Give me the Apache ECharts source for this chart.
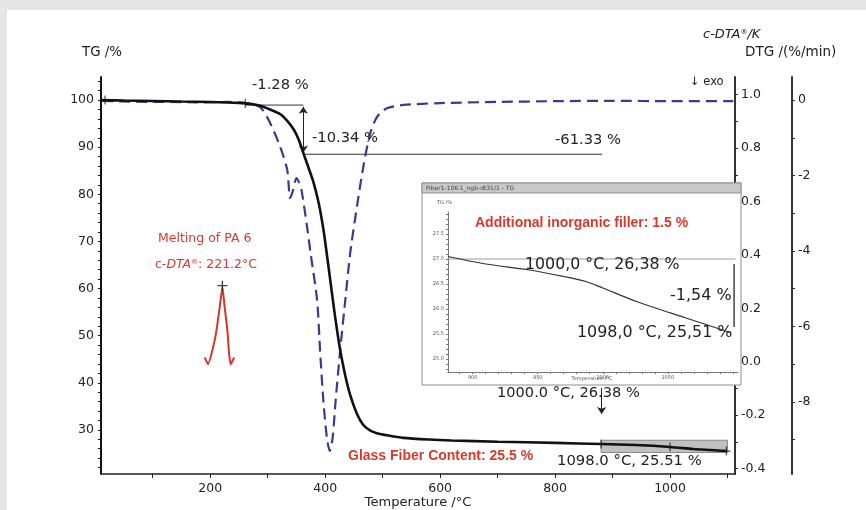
<!DOCTYPE html>
<html>
<head>
<meta charset="utf-8">
<script src="https://cdn.jsdelivr.net/npm/echarts@6/dist/echarts.min.js"></script>
<style>
  html, body { margin: 0; padding: 0; background: #e6e6e6; }
  #paper { position: absolute; left: 7px; top: 10px; width: 859px; height: 500px; background: #fff; }
  #chart { position: absolute; left: 0; top: 0; width: 866px; height: 510px; }
</style>
</head>
<body>
<div id="paper"></div>
<div id="chart"></div>
<script>
// TG curve (left axis, %)
const tgTemp = [12, 50, 100, 150, 200, 250, 270, 287, 304, 322, 334, 345, 354, 362, 370, 379, 386, 391, 397, 403, 408, 413, 418, 426, 435, 444, 455, 466, 478, 490, 510, 536, 580, 620, 700, 800, 880, 940, 1000, 1040, 1070, 1098];
const tgValues = [100.0, 99.9, 99.8, 99.7, 99.6, 99.4, 99.2, 98.8, 98.0, 97.0, 95.6, 93.8, 91.6, 88.8, 86.0, 82.8, 79.6, 76.8, 72.5, 67.2, 62.6, 57.9, 53.4, 47.0, 41.5, 37.2, 33.5, 31.1, 29.9, 29.3, 28.8, 28.3, 27.95, 27.75, 27.5, 27.25, 27.0, 26.78, 26.38, 25.95, 25.72, 25.51];

// DTG curve (outer right axis, %/min)
const dtgTemp = [12, 60, 120, 180, 230, 262, 287, 304, 322, 334, 339, 344, 350, 355, 359, 368, 375, 386, 391, 397, 403, 408, 413, 418, 426, 435, 444, 455, 466, 478, 490, 507, 536, 600, 700, 800, 900, 1000, 1110];
const dtgValues = [-0.02, -0.04, -0.05, -0.06, -0.05, -0.08, -0.19, -0.6, -1.25, -1.85, -2.6, -2.4, -2.07, -2.2, -2.4, -3.3, -4.1, -5.3, -6.6, -8.0, -8.95, -9.3, -8.95, -8.0, -6.65, -5.3, -4.0, -2.85, -1.8, -0.9, -0.45, -0.22, -0.13, -0.08, -0.05, -0.03, -0.02, -0.03, -0.03];

// c-DTA melting peak (inner right axis, K)
const dtaTemp = [190.4, 196.3, 205.0, 210.8, 216.5, 221.2, 225.2, 229.9, 232.9, 235.7, 241.6];
const dtaValues = [0.016, -0.009, 0.054, 0.116, 0.204, 0.279, 0.204, 0.116, 0.03, -0.009, 0.016];

// inset: TG tail
const insetTemp = [881, 910, 944, 970, 987, 1000, 1026, 1064, 1098];
const insetValues = [27.05, 26.9, 26.78, 26.65, 26.55, 26.42, 26.15, 25.82, 25.53];

// evaluation marks
const markTemp = [17, 261, 880, 1000, 1098];
const markTg = [100.0, 99.3, 27.0, 26.38, 25.51];
const peakPoint = [221.2, 0.285];

// ticks and labels
const xLabelValues = [200, 400, 600, 800, 1000];
const xTickValues = [100, 200, 300, 400, 500, 600, 700, 800, 900, 1000, 1100];
const tgLabelValues = [30, 40, 50, 60, 70, 80, 90, 100];
const tgTickValues = [22, 24, 26, 28, 30, 32, 34, 36, 38, 40, 42, 44, 46, 48, 50, 52, 54, 56, 58, 60, 62, 64, 66, 68, 70, 72, 74, 76, 78, 80, 82, 84, 86, 88, 90, 92, 94, 96, 98, 100, 102, 104];
const dtaLabelValues = [-0.4, -0.2, 0.0, 0.2, 0.4, 0.6, 0.8, 1.0];
const dtaTickValues = [-0.4, -0.3, -0.2, -0.1, 0.0, 0.1, 0.2, 0.3, 0.4, 0.5, 0.6, 0.7, 0.8, 0.9, 1.0];
const dtgLabelValues = [-8, -6, -4, -2, 0];
const dtgTickValues = [-9, -8, -7, -6, -5, -4, -3, -2, -1, 0];
const insetXLabels = [900, 950, 1000, 1050];
const insetXTicks = [890, 900, 910, 920, 930, 940, 950, 960, 970, 980, 990, 1000, 1010, 1020, 1030, 1040, 1050, 1060, 1070, 1080, 1090, 1100];
const insetYLabels = [25.0, 25.5, 26.0, 26.5, 27.0, 27.5];
const insetYTicks = [24.8, 24.9, 25.0, 25.1, 25.2, 25.3, 25.4, 25.5, 25.6, 25.7, 25.8, 25.9, 26.0, 26.1, 26.2, 26.3, 26.4, 26.5, 26.6, 26.7, 26.8, 26.9, 27.0, 27.1, 27.2, 27.3, 27.4, 27.5, 27.6, 27.7, 27.8, 27.9];

const FONT = 'DejaVu Sans';
const RED = '#d63a2d';
const INK = '#222';
const zip = (xs, ys) => xs.map((x, i) => [x, ys[i]]);
const cross = 'path://M0,4.3H10V5.7H0Z M4.3,0H5.7V10H4.3Z';
const plain = v => String(v);

const chart = echarts.init(document.getElementById('chart'));

const label = (size, extra) => Object.assign({ color: INK, fontFamily: FONT, fontSize: size }, extra);

const text = (x, y, str, size, extra) => ({
  type: 'text', x: x, y: y, z: 60,
  style: Object.assign({ text: str, fill: INK, fontFamily: FONT, fontSize: size, verticalAlign: 'middle' }, extra)
});

const option = {
  animation: false,
  backgroundColor: 'transparent',
  grid: [
    { left: 101, right: 131, top: 77, bottom: 36 },
    { left: 448, top: 212, width: 290, height: 160, z: 50 }
  ],
  xAxis: [
    {
      gridIndex: 0, type: 'value', min: 10, max: 1113,
      axisLine: { onZero: false, lineStyle: { color: INK, width: 1.5 } },
      axisTick: { customValues: xTickValues, length: 4, lineStyle: { color: INK } },
      axisLabel: label(12.5, { customValues: xLabelValues, margin: 8, formatter: plain }),
      splitLine: { show: false }
    },
    {
      gridIndex: 1, type: 'value', min: 881, max: 1104, z: 52,
      axisLine: { onZero: false, lineStyle: { color: '#777', width: 1 } },
      axisTick: { customValues: insetXTicks, length: 2, lineStyle: { color: '#777' } },
      axisLabel: label(5, { customValues: insetXLabels, margin: 3, color: '#555', formatter: plain }),
      splitLine: { show: false }
    }
  ],
  yAxis: [
    {
      gridIndex: 0, type: 'value', position: 'left', min: 20.64, max: 104.9,
      axisLine: { show: true, onZero: false, lineStyle: { color: '#111', width: 2 } },
      axisTick: { show: true, customValues: tgTickValues, length: 3, lineStyle: { color: '#111' } },
      axisLabel: label(12.5, { customValues: tgLabelValues, margin: 7 }),
      splitLine: { show: false }
    },
    {
      gridIndex: 0, type: 'value', position: 'right', offset: 0, min: -0.42, max: 1.066,
      axisLine: { show: true, onZero: false, lineStyle: { color: '#333', width: 2 } },
      axisTick: { show: true, customValues: dtaTickValues, length: 3, lineStyle: { color: '#333' } },
      axisLabel: label(12.5, { customValues: dtaLabelValues, margin: 6, formatter: v => v.toFixed(1) }),
      splitLine: { show: false }
    },
    {
      gridIndex: 0, type: 'value', position: 'right', offset: 57, min: -9.91, max: 0.611,
      axisLine: { show: true, onZero: false, lineStyle: { color: '#333', width: 2 } },
      axisTick: { show: true, customValues: dtgTickValues, length: 3, lineStyle: { color: '#333' } },
      axisLabel: label(12.5, { customValues: dtgLabelValues, margin: 6 }),
      splitLine: { show: false }
    },
    {
      gridIndex: 1, type: 'value', min: 24.74, max: 27.94, z: 52,
      axisLine: { show: true, onZero: false, lineStyle: { color: '#777', width: 1 } },
      axisTick: { show: true, customValues: insetYTicks, length: 2, lineStyle: { color: '#777' } },
      axisLabel: label(5, { customValues: insetYLabels, margin: 4, color: '#555', formatter: v => v.toFixed(1) }),
      splitLine: { show: false }
    }
  ],
  series: [
    {
      name: 'step -1.28', type: 'line', xAxisIndex: 0, yAxisIndex: 0, z: 3,
      data: [[261, 98.94], [362, 98.94]], showSymbol: false,
      lineStyle: { color: '#8a8a8a', width: 1.6 }
    },
    {
      name: 'step -61.33', type: 'line', xAxisIndex: 0, yAxisIndex: 0, z: 3,
      data: [[362, 88.5], [882, 88.5]], showSymbol: false,
      lineStyle: { color: '#333', width: 1.2 },
      markArea: {
        silent: true,
        itemStyle: { color: 'rgba(150,150,150,0.6)', borderColor: '#8a8a8a', borderWidth: 1 },
        data: [[{ coord: [880, 27.8] }, { coord: [1100, 25.2] }]]
      }
    },
    {
      name: 'DTG', type: 'line', xAxisIndex: 0, yAxisIndex: 2, z: 4,
      data: zip(dtgTemp, dtgValues), showSymbol: false, smooth: 0.25,
      lineStyle: { color: '#363d8c', width: 2.2, type: [11, 6] }
    },
    {
      name: 'TG', type: 'line', xAxisIndex: 0, yAxisIndex: 0, z: 5,
      data: zip(tgTemp, tgValues), showSymbol: false, smooth: 0.25,
      lineStyle: { color: '#111', width: 2.6 },
      markLine: {
        silent: true, animation: false, label: { show: false },
        lineStyle: { color: '#222', width: 1, type: 'solid' },
        symbolSize: 7,
        data: [
          [{ coord: [362, 98.6], symbol: 'arrow' }, { coord: [362, 88.9], symbol: 'arrow' }],
          [{ coord: [881, 38.9], symbol: 'none' }, { coord: [881, 33.4], symbol: 'arrow' }]
        ]
      }
    },
    {
      name: 'TG marks', type: 'scatter', xAxisIndex: 0, yAxisIndex: 0, z: 6,
      data: zip(markTemp, markTg), symbol: cross, symbolSize: [8, 9],
      itemStyle: { color: '#111' }
    },
    {
      name: 'c-DTA', type: 'line', xAxisIndex: 0, yAxisIndex: 1, z: 5,
      data: zip(dtaTemp, dtaValues), showSymbol: false, smooth: 0.15,
      lineStyle: { color: '#d8342c', width: 2 }
    },
    {
      name: 'c-DTA peak', type: 'scatter', xAxisIndex: 0, yAxisIndex: 1, z: 6,
      data: [peakPoint], symbol: cross, symbolSize: 10,
      itemStyle: { color: '#111' }
    },
    {
      name: 'inset base', type: 'line', xAxisIndex: 1, yAxisIndex: 3, z: 55,
      data: [[881, 27.0], [1102, 27.0]], showSymbol: false,
      lineStyle: { color: '#9a9a9a', width: 1 }
    },
    {
      name: 'inset TG', type: 'line', xAxisIndex: 1, yAxisIndex: 3, z: 55,
      data: zip(insetTemp, insetValues), showSymbol: false, smooth: 0.3,
      lineStyle: { color: '#333', width: 1.2 }
    },
    {
      name: 'inset step', type: 'line', xAxisIndex: 1, yAxisIndex: 3, z: 56,
      data: [[1101, 26.9], [1101, 25.64]], showSymbol: false,
      lineStyle: { color: '#444', width: 1.5 }
    }
  ],
  graphic: [
    { type: 'rect', z: 40, shape: { x: 422, y: 183, width: 319, height: 202 }, style: { fill: '#fff', stroke: '#8f8f8f', lineWidth: 1 } },
    { type: 'rect', z: 41, shape: { x: 422, y: 183, width: 319, height: 10 }, style: { fill: '#c9c9c9', stroke: '#8f8f8f', lineWidth: 1 } },
    text(426, 188, 'Fiber1-10K-1_ngb-dt31/1 - TG', 6, { fill: '#444' }),
    text(437, 203, 'TG /%', 5, { fill: '#555' }),
    text(592, 379, 'Temperature /°C', 5, { fill: '#555', align: 'center' }),

    text(82, 53, 'TG /%', 13.4),
    text(703, 35, '{i|c-DTA}{s|®}{i|/K}', 13, {
      rich: {
        i: { fontStyle: 'italic', fontFamily: FONT, fontSize: 13, fill: INK },
        s: { fontStyle: 'italic', fontFamily: FONT, fontSize: 7, fill: INK, verticalAlign: 'top' }
      }
    }),
    text(745, 52, 'DTG /(%/min)', 13.5),
    text(418, 503, 'Temperature /°C', 13, { align: 'center' }),
    text(690, 82, '↓ exo', 11.5),

    text(252, 85, '-1.28 %', 14.7),
    text(312, 138, '-10.34 %', 14.7),
    text(555, 140, '-61.33 %', 14.7),

    text(158, 239, 'Melting of PA 6', 12.5, { fill: RED }),
    text(155, 265, '{n|c-}{i|DTA}{s|®}{n|: 221.2°C}', 12.5, {
      rich: {
        n: { fontFamily: FONT, fontSize: 12.5, fill: RED },
        i: { fontFamily: FONT, fontSize: 12.5, fontStyle: 'italic', fill: RED },
        s: { fontFamily: FONT, fontSize: 7, fill: RED, verticalAlign: 'top' }
      }
    }),

    text(348, 456, 'Glass Fiber Content: 25.5 %', 14, { fill: RED, fontWeight: 'bold', fontFamily: 'Liberation Sans' }),
    text(497, 393, '1000.0 °C, 26.38 %', 14.6),
    text(557, 461, '1098.0 °C, 25.51 %', 14.8),

    text(475, 223, 'Additional inorganic filler: 1.5 %', 14, { fill: RED, fontWeight: 'bold', fontFamily: 'Liberation Sans' }),
    text(525, 265, '1000,0 °C, 26,38 %', 15.8),
    text(670, 296, '-1,54 %', 16),
    text(577, 333, '1098,0 °C, 25,51 %', 15.9)
  ]
};

chart.setOption(option);
</script>
</body>
</html>
